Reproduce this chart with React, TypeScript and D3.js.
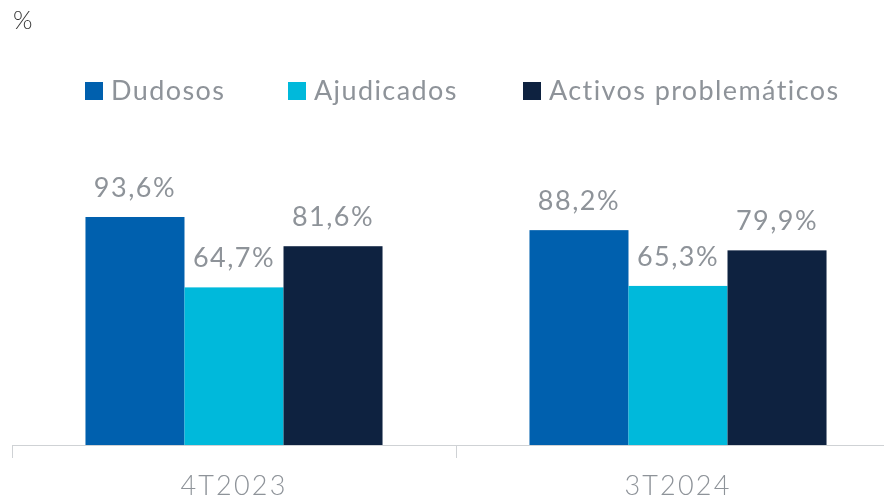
import * as d3 from 'd3'

const categories = ['4T2023', '3T2024']
const series = ['Dudosos', 'Ajudicados', 'Activos problemáticos']
const values: Record<string, number[]> = {
  Dudosos: [93.6, 88.2],
  Ajudicados: [64.7, 65.3],
  'Activos problemáticos': [81.6, 79.9],
}
const colors = ['#0060ae', '#00b9db', '#0e2240']
const legendX = [85, 288, 523]

const W = 884
const H = 502
const FONT = 'Lato, "Open Sans", sans-serif'
const GREY = '#8e9399'

const fmt = (v: number) => d3.format('.1f')(v).replace('.', ',') + '%'

export default function App() {
  const x0 = d3.scaleBand<string>().domain(categories).range([12, 900]).padding(0)
  const x1 = d3
    .scaleBand<string>()
    .domain(series)
    .range([0, x0.bandwidth()])
    .paddingInner(0)
    .paddingOuter(0.742)
  const y = d3.scaleLinear().domain([0, 100]).range([445, 201.4])

  return (
    <div style={{ position: 'fixed', left: 0, top: 0 }}>
      <svg width={W} height={H} style={{ display: 'block', fontFamily: FONT }}>
        <text x={13} y={29} fontSize={25} fontWeight={300} fill="#333">%</text>

        {series.map((s, i) => (
          <g key={s} transform={`translate(${legendX[i]},82)`}>
            <rect width={18} height={18} fill={colors[i]} />
            <text x={26} y={18} fontSize={27} letterSpacing={1.4} fill={GREY}>{s}</text>
          </g>
        ))}

        {categories.map((c, ci) => (
          <g key={c} transform={`translate(${x0(c)},0)`}>
            {series.map((s, si) => {
              const v = values[s][ci]
              const bx = x1(s) ?? 0
              return (
                <g key={s}>
                  <rect x={bx} y={y(v)} width={x1.bandwidth()} height={y(0) - y(v)} fill={colors[si]} />
                  <text
                    x={bx + x1.bandwidth() / 2}
                    y={y(v) - 20}
                    textAnchor="middle"
                    fontSize={27}
                    letterSpacing={1.5}
                    fill={GREY}
                  >
                    {fmt(v)}
                  </text>
                </g>
              )
            })}
            <text
              x={x0.bandwidth() / 2}
              y={495}
              textAnchor="middle"
              fontSize={27}
              fontWeight={300}
              letterSpacing={2.2}
              fill={GREY}
            >
              {c}
            </text>
          </g>
        ))}

        <line x1={12} x2={W} y1={y(0) + 0.5} y2={y(0) + 0.5} stroke="#cfd2d5" />
        {categories.map((c) => (
          <line key={c} x1={(x0(c) ?? 0) + 0.5} x2={(x0(c) ?? 0) + 0.5} y1={y(0)} y2={y(0) + 13} stroke="#cfd2d5" />
        ))}
      </svg>
    </div>
  )
}
